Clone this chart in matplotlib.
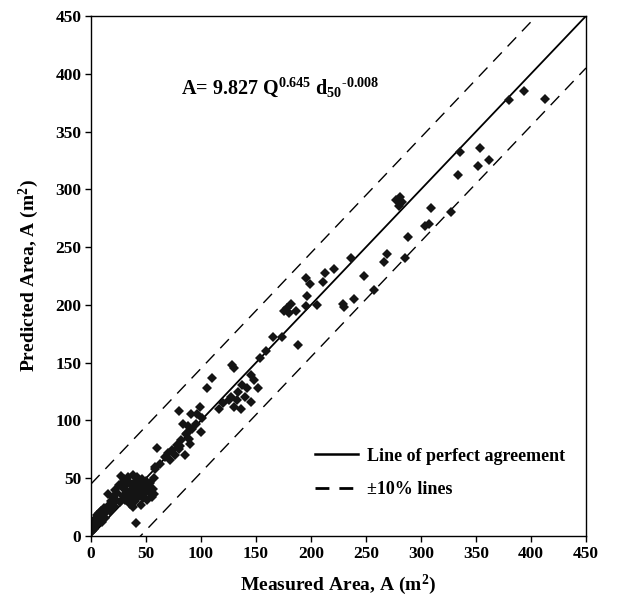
import numpy as np
import matplotlib
matplotlib.use('Agg')
import matplotlib.pyplot as plt
from matplotlib.lines import Line2D

# measured vs predicted area (m2)
measured = [1, 2, 2, 3, 4, 5, 5, 6, 7, 8, 9, 10, 11, 12, 13, 14, 15, 16, 17, 18,
            20, 21, 22, 23, 24, 25, 26, 27, 28, 29, 30, 30, 31, 32, 33, 34, 35, 35, 36, 37,
            38, 38, 39, 40, 40, 41, 41, 42, 43, 44, 45, 45, 46, 47, 48, 49, 50, 51, 52, 53,
            54, 55, 56, 57, 58, 57,
            60, 58, 63, 67, 70, 72, 74, 76, 78, 80, 80, 81, 82, 84, 85, 86, 87, 88, 89, 90,
            91, 92, 95, 96, 99, 100, 101, 105, 110,
            116, 120, 125, 127, 128, 130, 130, 133, 134, 136, 137, 140, 142, 145, 145, 148, 152, 154, 159,
            165, 174, 175, 178, 180, 182, 186, 188, 195, 195, 196, 199, 205, 211, 213, 221, 229, 230, 236, 239,
            248, 257, 266, 269, 277, 280, 281, 283, 285, 288, 304, 307, 309, 327,
            334, 335, 352, 354, 362, 380, 394, 413]
predicted = [4, 8, 12, 6, 15, 10, 18, 13, 20, 16, 22, 12, 19, 24, 16, 21, 36, 27, 22, 30,
             34, 26, 40, 31, 37, 44, 29, 52, 46, 35, 41, 49, 31, 44, 38, 51, 28, 46, 34, 41,
             53, 25, 37, 47, 30, 11, 42, 51, 34, 45, 27, 39, 49, 33, 44, 37, 48, 31, 42, 38,
             46, 34, 41, 36, 60, 50,
             76, 58, 62, 68, 72, 66, 74, 70, 79, 75, 108, 78, 83, 97, 70, 88, 89, 95, 84, 80,
             106, 93, 97, 106, 112, 90, 102, 128, 137,
             110, 115, 118, 120, 148, 145, 112, 118, 125, 110, 131, 120, 128, 139, 116, 135, 128, 154, 160,
             172, 172, 195, 197, 193, 201, 195, 165, 199, 223, 208, 218, 200, 220, 228, 231, 201, 198, 241, 205,
             225, 213, 237, 244, 291, 286, 293, 289, 241, 259, 268, 270, 284, 280,
             312, 332, 320, 336, 325, 377, 385, 378]
ticks = list(range(0, 451, 50))

plt.rcParams['font.family'] = 'Liberation Serif'
plt.rcParams['font.weight'] = 'bold'
plt.rcParams['mathtext.fontset'] = 'custom'
plt.rcParams['mathtext.rm'] = 'Liberation Serif:bold'
plt.rcParams['mathtext.it'] = 'Liberation Serif:bold'
plt.rcParams['mathtext.bf'] = 'Liberation Serif:bold'

fig = plt.figure(figsize=(6.22, 6.05), dpi=100)
ax = fig.add_axes([91/622, 1 - 536/605, 495/622, 520/605])

lx = np.array([0, 450])
ax.plot(lx, lx, color='k', lw=1.3)
ax.plot(lx, lx + 45, color='k', lw=1, dashes=(9, 6))
ax.plot(lx, lx - 45, color='k', lw=1, dashes=(9, 6))
ax.plot(measured, predicted, 'D', color='#141414', ms=5.3, mew=0, ls='none')

ax.set_xlim(0, 450)
ax.set_ylim(0, 450)
ax.set_xticks(ticks)
ax.set_yticks(ticks)
ax.tick_params(direction='out', length=4, width=1, labelsize=12.5, pad=3)
for s in ax.spines.values():
    s.set_linewidth(1)

ax.set_xlabel('Measured Area, A (m$^2$)', fontsize=14, fontweight='bold', labelpad=8)
ax.set_ylabel('Predicted Area, A (m$^2$)', fontsize=14, fontweight='bold', labelpad=10)

ax.text(82, 383, 'A= 9.827 Q$^{0.645}$ d$_{50}$$^{\\text{-0.008}}$', fontsize=14.5,
        fontweight='bold', va='baseline')

handles = [Line2D([], [], color='k', lw=1.8),
           Line2D([], [], color='k', lw=2, dashes=(5, 3.6))]
ax.legend(handles, ['Line of perfect agreement', '\u00b110% lines'], loc='upper left',
          bbox_to_anchor=(0.4525, 0.17), frameon=False, borderpad=0, borderaxespad=0,
          handlelength=2.4, handletextpad=0.5, labelspacing=0.9,
          prop={'family': 'Liberation Serif', 'weight': 'bold', 'size': 13})

fig.savefig('out.png', dpi=100)
